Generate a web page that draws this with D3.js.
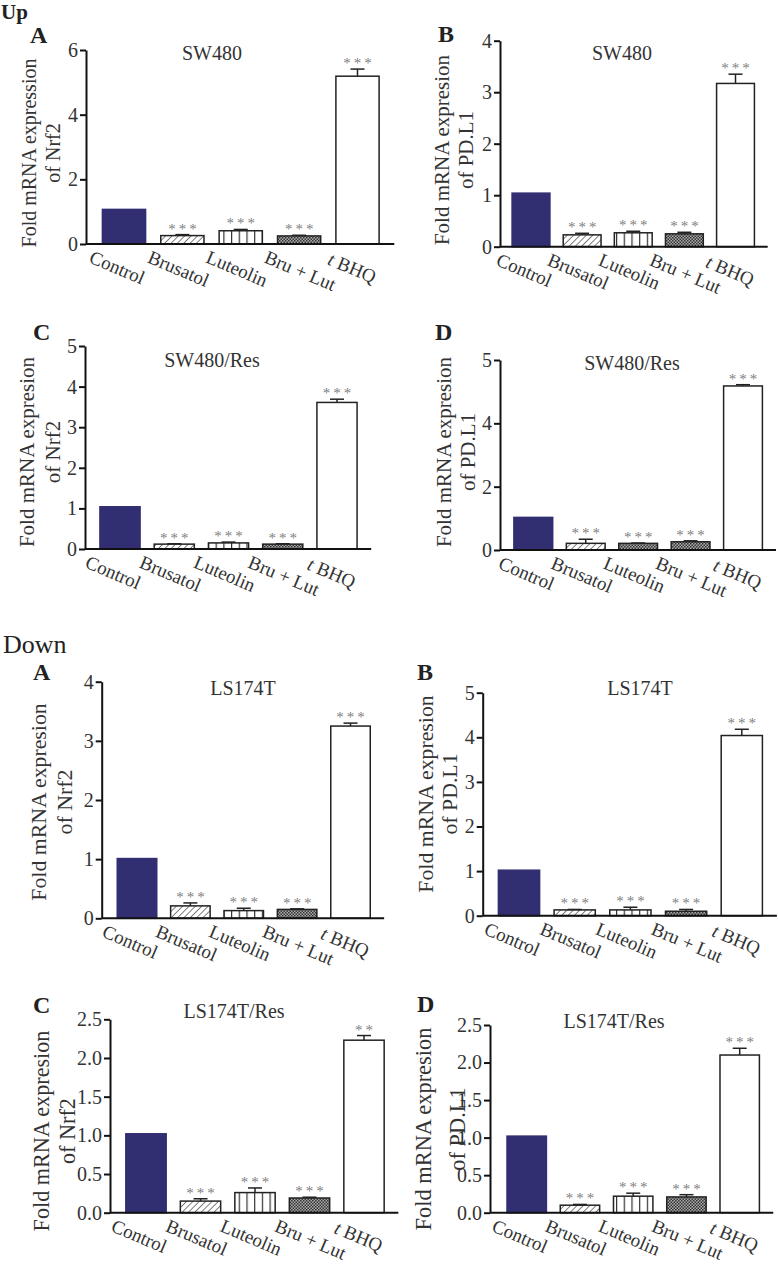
<!DOCTYPE html>
<html><head><meta charset="utf-8">
<script src="https://cdn.jsdelivr.net/npm/d3@7"></script>
<style>
body{margin:0;background:#fff}
svg{display:block;background:#fff}
text{font-family:"Liberation Serif","Times New Roman",serif}
</style>
</head><body>
<svg id="chart" width="778" height="1266"></svg>
<script>
// ---------- DATA ----------
const categories = ["Control", "Brusatol", "Luteolin", "Bru + Lut", "t BHQ"];

const upA_values = [1.07, 0.26, 0.41, 0.25, 5.19];
const upA_errors = [0, 0.03, 0.04, 0.02, 0.22];
const upB_values = [1.04, 0.23, 0.27, 0.25, 3.17];
const upB_errors = [0, 0.03, 0.03, 0.03, 0.18];
const upC_values = [1.04, 0.12, 0.15, 0.12, 3.61];
const upC_errors = [0, 0.01, 0.02, 0.01, 0.08];
const upD_values = [1.03, 0.21, 0.21, 0.26, 5.18];
const upD_errors = [0, 0.13, 0.01, 0.03, 0.04];
const downA_values = [1.01, 0.21, 0.13, 0.15, 3.25];
const downA_errors = [0, 0.05, 0.04, 0.01, 0.05];
const downB_values = [1.02, 0.13, 0.13, 0.10, 4.04];
const downB_errors = [0, 0.01, 0.06, 0.04, 0.14];
const downC_values = [1.02, 0.15, 0.26, 0.19, 2.23];
const downC_errors = [0, 0.03, 0.06, 0.01, 0.06];
const downD_values = [1.02, 0.10, 0.22, 0.21, 2.10];
const downD_errors = [0, 0.01, 0.04, 0.03, 0.09];

const sig_default = ["", "***", "***", "***", "***"];
const sig_downC = ["", "***", "***", "***", "**"];

const ticks_0_6 = [0, 2, 4, 6];
const ticks_0_4 = [0, 1, 2, 3, 4];
const ticks_0_5 = [0, 1, 2, 3, 4, 5];
const ticks_0_25 = [0, 0.5, 1.0, 1.5, 2.0, 2.5];
const tickLabels_upA = ["0", "2", "4", "6"];
const tickLabels_upD = ["0", "2", "4", "5"];
const tickLabels_0_4 = ["0", "1", "2", "3", "4"];
const tickLabels_0_5 = ["0", "1", "2", "3", "4", "5"];
const tickLabels_0_25 = ["0.0", "0.5", "1.0", "1.5", "2.0", "2.5"];

const fills_default = ["solid", "hatch", "vlines", "check", "open"];
const fills_upD = ["solid", "hatch", "check", "check", "open"];

// ---------- LAYOUT ----------
const panels = [
  {values: upA_values, errors: upA_errors, sig: sig_default, ticks: ticks_0_6, tickLabels: tickLabels_upA, fills: fills_default,
   title: "SW480", ylab: ["Fold mRNA expression", "of Nrf2"], letter: "A", labFs: 20,
   axisX: 86, y0: 244, yTop: 50, c0: 124, c4: 357.5, titleX: 212, titleY: 60, letterX: 30, letterY: 43,
   lab1: -50, lab2: -26, labY: 153},
  {values: upB_values, errors: upB_errors, sig: sig_default, ticks: ticks_0_4, tickLabels: tickLabels_0_4, fills: fills_default,
   title: "SW480", ylab: ["Fold mRNA expresion", "of PD.L1"], letter: "B", labFs: 21,
   axisX: 500, y0: 246.7, yTop: 40.7, c0: 531, c4: 735.5, titleX: 622, titleY: 60, letterX: 438, letterY: 42,
   lab1: -51, lab2: -27, labY: 150},
  {values: upC_values, errors: upC_errors, sig: sig_default, ticks: ticks_0_5, tickLabels: tickLabels_0_5, fills: fills_default,
   title: "SW480/Res", ylab: ["Fold mRNA expresion", "of Nrf2"], letter: "C", labFs: 21,
   axisX: 85, y0: 549, yTop: 346, c0: 120, c4: 337, titleX: 212, titleY: 367, letterX: 33, letterY: 340,
   lab1: -51, lab2: -25, labY: 452},
  {values: upD_values, errors: upD_errors, sig: sig_default, ticks: ticks_0_6, tickLabels: tickLabels_upD, fills: fills_upD,
   title: "SW480/Res", ylab: ["Fold mRNA expresion", "of PD.L1"], letter: "D", labFs: 21,
   axisX: 500, y0: 550, yTop: 360, c0: 533.3, c4: 743, titleX: 632, titleY: 370, letterX: 435, letterY: 340,
   lab1: -49, lab2: -25, labY: 452},
  {values: downA_values, errors: downA_errors, sig: sig_default, ticks: ticks_0_4, tickLabels: tickLabels_0_4, fills: fills_default,
   title: "LS174T", ylab: ["Fold mRNA expresion", "of Nrf2"], letter: "A", labFs: 21.8,
   axisX: 101.7, y0: 918.3, yTop: 681.7, c0: 137, c4: 350.5, titleX: 243, titleY: 695, letterX: 33, letterY: 680,
   lab1: -56, lab2: -30, labY: 802},
  {values: downB_values, errors: downB_errors, sig: sig_default, ticks: ticks_0_5, tickLabels: tickLabels_0_5, fills: fills_default,
   title: "LS174T", ylab: ["Fold mRNA expresion", "of PD.L1"], letter: "B", labFs: 21.8,
   axisX: 482.7, y0: 915.7, yTop: 692.7, c0: 519, c4: 741.8, titleX: 640, titleY: 695, letterX: 417, letterY: 680,
   lab1: -50, lab2: -26, labY: 794},
  {values: downC_values, errors: downC_errors, sig: sig_downC, ticks: ticks_0_25, tickLabels: tickLabels_0_25, fills: fills_default,
   title: "LS174T/Res", ylab: ["Fold mRNA expresion", "of Nrf2"], letter: "C", labFs: 22.2,
   axisX: 110, y0: 1212.7, yTop: 1019.3, c0: 146, c4: 364, titleX: 234, titleY: 1018, letterX: 33, letterY: 1013,
   lab1: -61, lab2: -35, labY: 1131},
  {values: downD_values, errors: downD_errors, sig: sig_default, ticks: ticks_0_25, tickLabels: tickLabels_0_25, fills: fills_default,
   title: "LS174T/Res", ylab: ["Fold mRNA expresion", "of PD.L1"], letter: "D", labFs: 22.4,
   axisX: 490, y0: 1212.7, yTop: 1025, c0: 526.7, c4: 739.7, titleX: 614, titleY: 1028, letterX: 417, letterY: 1012,
   lab1: -59, lab2: -25, labY: 1129}
];

const svg = d3.select("#chart");
const NAVY = "#312e72";

// ---------- PATTERNS ----------
const defs = svg.append("defs");
const ph = defs.append("pattern").attr("id", "hatch").attr("patternUnits", "userSpaceOnUse")
  .attr("width", 4.5).attr("height", 4.5).attr("patternTransform", "rotate(45)");
ph.append("rect").attr("width", 4.5).attr("height", 4.5).attr("fill", "#fff");
ph.append("line").attr("x1", 0).attr("y1", 0).attr("x2", 0).attr("y2", 4.5)
  .attr("stroke", "#555").attr("stroke-width", 1.5);

const pv = defs.append("pattern").attr("id", "vlines").attr("patternUnits", "userSpaceOnUse")
  .attr("width", 7.7).attr("height", 10);
pv.append("rect").attr("width", 7.7).attr("height", 10).attr("fill", "#fff");
pv.append("line").attr("x1", 0.6).attr("y1", 0).attr("x2", 0.6).attr("y2", 10)
  .attr("stroke", "#333").attr("stroke-width", 1.2);

const pc = defs.append("pattern").attr("id", "check").attr("patternUnits", "userSpaceOnUse")
  .attr("width", 3).attr("height", 3);
pc.append("rect").attr("width", 3).attr("height", 3).attr("fill", "#aaa");
pc.append("rect").attr("width", 1.5).attr("height", 1.5).attr("fill", "#333");
pc.append("rect").attr("x", 1.5).attr("y", 1.5).attr("width", 1.5).attr("height", 1.5).attr("fill", "#333");

const fillFor = f => f === "solid" ? NAVY : f === "open" ? "#fff" : `url(#${f})`;
const strokeFor = f => f === "solid" ? NAVY : "#222";

// ---------- SECTION LABELS ----------
svg.append("text").attr("x", 1).attr("y", 19).attr("font-size", 21).attr("font-weight", "bold")
  .attr("fill", "#222").text("Up");
svg.append("text").attr("x", 3).attr("y", 653).attr("font-size", 26)
  .attr("fill", "#222").text("Down");

// ---------- PANELS ----------
panels.forEach(p => {
  const g = svg.append("g");
  const pad = 0.26;
  const step = (p.c4 - p.c0) / 4;
  const r0 = p.c0 - (pad + (1 - pad) / 2) * step;
  const r1 = r0 + (5 + pad) * step;
  const x = d3.scaleBand().domain(categories).range([r0, r1]).paddingInner(pad).paddingOuter(pad);
  const yMax = p.ticks[p.ticks.length - 1];
  const y = d3.scaleLinear().domain([0, yMax]).range([p.y0, p.yTop]);
  const bw = x.bandwidth();

  // bars
  g.selectAll("rect.bar").data(categories).join("rect").attr("class", "bar")
    .attr("x", d => x(d)).attr("width", bw)
    .attr("y", (d, i) => y(p.values[i])).attr("height", (d, i) => p.y0 - y(p.values[i]))
    .attr("fill", (d, i) => fillFor(p.fills[i]))
    .attr("stroke", (d, i) => strokeFor(p.fills[i])).attr("stroke-width", 1.5);

  // error bars (upper)
  categories.forEach((c, i) => {
    if (!p.errors[i]) return;
    const cx = x(c) + bw / 2;
    const yt = y(p.values[i] + p.errors[i]);
    g.append("line").attr("x1", cx).attr("x2", cx).attr("y1", y(p.values[i])).attr("y2", yt)
      .attr("stroke", "#222").attr("stroke-width", 1.5);
    g.append("line").attr("x1", cx - 7).attr("x2", cx + 7).attr("y1", yt).attr("y2", yt)
      .attr("stroke", "#222").attr("stroke-width", 1.5);
  });

  // significance stars
  g.selectAll("text.sig").data(categories).join("text").attr("class", "sig")
    .attr("x", d => x(d) + bw / 2 + 1.5)
    .attr("y", (d, i) => y(p.values[i] + p.errors[i]) - 1)
    .attr("text-anchor", "middle").attr("font-size", 15).attr("letter-spacing", 3)
    .attr("fill", "#808080").text((d, i) => p.sig[i]);

  // y axis
  const yAxis = d3.axisLeft(y).tickValues(p.ticks).tickFormat((d, i) => p.tickLabels[i])
    .tickSize(6).tickSizeOuter(0).tickPadding(2);
  const ga = g.append("g").attr("transform", `translate(${p.axisX},0)`).call(yAxis);
  ga.select(".domain").attr("stroke", "#111").attr("stroke-width", 2);
  ga.selectAll(".tick line").attr("stroke", "#111").attr("stroke-width", 2);
  ga.selectAll(".tick text").attr("font-family", "Liberation Serif, serif").attr("font-size", 20)
    .attr("fill", "#333");

  // x axis line
  const xAxis = d3.axisBottom(x).tickSize(0).tickFormat("");
  const gx = g.append("g").attr("transform", `translate(0,${p.y0})`).call(xAxis);
  gx.select(".domain").attr("stroke", "#111").attr("stroke-width", 2)
    .attr("d", `M${p.axisX},0H${r1}`);

  // x labels
  categories.forEach(c => {
    const px = x(c) + bw / 2 - 36, py = p.y0 + 18;
    const t = g.append("text").attr("transform", `translate(${px},${py}) rotate(23)`)
      .attr("font-size", 19).attr("fill", "#333");
    if (c.startsWith("t ")) {
      t.attr("transform", `translate(${px + 5},${py + 2}) rotate(23)`);
      t.append("tspan").attr("font-style", "italic").text("t");
      t.append("tspan").text(" " + c.slice(2));
    } else t.text(c);
  });

  // title
  g.append("text").attr("x", p.titleX).attr("y", p.titleY).attr("text-anchor", "middle")
    .attr("font-size", 20).attr("fill", "#333").text(p.title);

  // panel letter
  g.append("text").attr("x", p.letterX).attr("y", p.letterY).attr("font-size", 24)
    .attr("font-weight", "bold").attr("fill", "#222").text(p.letter);

  // y label
  [p.lab1, p.lab2].forEach((off, k) => {
    g.append("text").attr("transform", `translate(${p.axisX + off},${p.labY}) rotate(-90)`)
      .attr("text-anchor", "middle").attr("font-size", p.labFs).attr("fill", "#333").text(p.ylab[k]);
  });
});
</script>
</body></html>
